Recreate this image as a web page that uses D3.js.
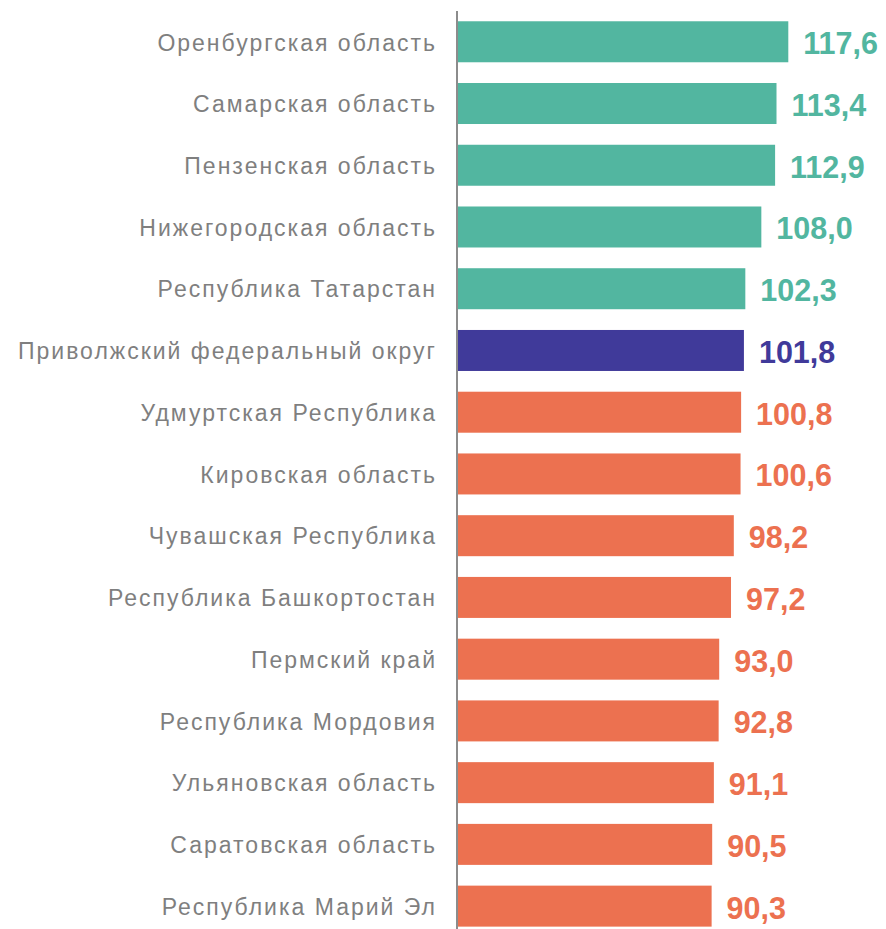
<!DOCTYPE html>
<html><head><meta charset="utf-8">
<script src="https://cdn.jsdelivr.net/npm/d3@7"></script>
<style>body{margin:0;background:#fff;}svg{display:block;}</style>
</head><body>
<script>
const categories = ["Оренбургская область","Самарская область","Пензенская область","Нижегородская область","Республика Татарстан","Приволжский федеральный округ","Удмуртская Республика","Кировская область","Чувашская Республика","Республика Башкортостан","Пермский край","Республика Мордовия","Ульяновская область","Саратовская область","Республика Марий Эл"];
const values = [117.6,113.4,112.9,108.0,102.3,101.8,100.8,100.6,98.2,97.2,93.0,92.8,91.1,90.5,90.3];
const groups = ["above","above","above","above","above","district","below","below","below","below","below","below","below","below","below"];
const colors = {above:"#52b6a0", district:"#403a9a", below:"#ec7150"};

const W = 886, H = 929;
const svg = d3.select("body").append("svg").attr("width", W).attr("height", H);
const x0 = 458;
const x = d3.scaleLinear().domain([0, 117.6]).range([x0, 788.3]);
const y = d3.scaleBand().domain(categories).range([10.9, 10.9 + 15*61.74]).paddingInner(0.336).paddingOuter(0.168);

const data = categories.map((c,i)=>({c, v:values[i], g:groups[i]}));

svg.selectAll("rect.bar").data(data).join("rect").attr("class","bar")
  .attr("x", x(0)).attr("y", d=>y(d.c)).attr("width", d=>x(d.v)-x(0)).attr("height", y.bandwidth())
  .attr("fill", d=>colors[d.g]);

svg.append("line").attr("x1", 457).attr("x2", 457).attr("y1", 11).attr("y2", H)
  .attr("stroke", "#8c8c8c").attr("stroke-width", 2);

svg.selectAll("text.cat").data(data).join("text").attr("class","cat")
  .attr("x", 437).attr("y", d=>y(d.c)+y.bandwidth()/2).attr("dy","0.38em")
  .attr("text-anchor","end").attr("font-family","'Liberation Sans', Arial, sans-serif")
  .attr("font-size", 23).attr("letter-spacing", 2).attr("fill","#7f7f7f").text(d=>d.c);

const fmt = v => v.toFixed(1).replace(".", ",");
svg.selectAll("text.val").data(data).join("text").attr("class","val")
  .attr("x", d=>x(d.v)+15).attr("y", d=>y(d.c)+y.bandwidth()/2).attr("dy","0.41em")
  .attr("font-family","'Liberation Sans', Arial, sans-serif").attr("font-weight","bold")
  .attr("font-size", 30.5).attr("fill", d=>colors[d.g]).text(d=>fmt(d.v));
</script>
</body></html>
